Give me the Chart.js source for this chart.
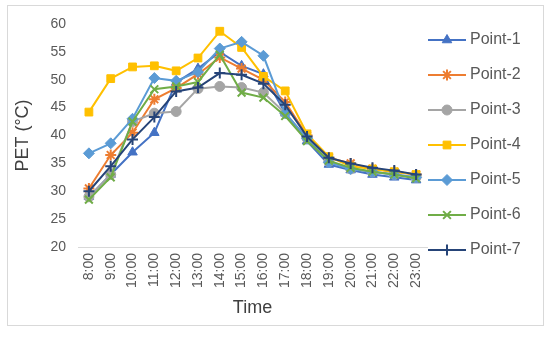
<!DOCTYPE html>
<html>
<head>
<meta charset="utf-8">
<script src="https://cdn.jsdelivr.net/npm/chart.js@4/dist/chart.umd.min.js"></script>
<style>
  html, body { margin: 0; padding: 0; background: #fff; }
  #wrap { width: 550px; height: 337px; }
</style>
</head>
<body>
<div id="wrap"><canvas id="myChart" width="550" height="337"></canvas></div>
<script>
const hours = ["8:00", "9:00", "10:00", "11:00", "12:00", "13:00", "14:00", "15:00",
  "16:00", "17:00", "18:00", "19:00", "20:00", "21:00", "22:00", "23:00"];
const yTicks = [20, 25, 30, 35, 40, 45, 50, 55, 60];

const point1 = [29.0, 33.0, 37.0, 40.5, 49.5, 52.0, 55.0, 52.5, 51.0, 44.0, 39.0, 34.8, 33.8, 33.0, 32.5, 32.0];
const point2 = [30.5, 36.5, 40.5, 46.5, 48.5, 51.0, 54.0, 52.0, 50.0, 46.0, 40.0, 36.0, 35.0, 34.0, 33.5, 33.0];
const point3 = [29.0, 33.0, 42.5, 44.0, 44.3, 48.4, 48.8, 48.6, 47.7, 44.0, 39.5, 35.3, 34.0, 33.5, 33.0, 32.5];
const point4 = [44.2, 50.2, 52.3, 52.5, 51.6, 53.9, 58.7, 55.8, 50.6, 48.0, 40.3, 36.2, 34.5, 34.0, 33.5, 33.0];
const point5 = [36.8, 38.6, 43.0, 50.3, 49.8, 51.4, 55.6, 56.8, 54.3, 44.0, 39.5, 35.2, 34.0, 33.5, 33.0, 32.5];
const point6 = [28.5, 32.5, 42.5, 48.3, 48.8, 49.6, 54.5, 47.7, 46.8, 43.5, 39.0, 35.5, 34.2, 33.5, 33.0, 32.3];
const point7 = [30.0, 34.5, 39.3, 43.3, 47.9, 48.6, 51.2, 50.9, 49.3, 45.5, 39.8, 36.0, 35.0, 34.2, 33.7, 33.0];

const names = ["Point-1", "Point-2", "Point-3", "Point-4", "Point-5", "Point-6", "Point-7"];
const colors = ["#4472C4", "#ED7D31", "#A5A5A5", "#FFC000", "#5B9BD5", "#70AD47", "#264478"];
const markers = ["triangle", "star", "circle", "rect", "rectRot", "crossRot", "cross"];
const series = [point1, point2, point3, point4, point5, point6, point7];

const FONT = "'Liberation Sans', Arial, sans-serif";
const GREY = "#595959";

const datasets = series.map(function(vals, i) {
  const solid = markers[i] !== "star" && markers[i] !== "crossRot" && markers[i] !== "cross";
  return {
    label: names[i],
    data: vals,
    borderColor: colors[i],
    backgroundColor: colors[i],
    borderWidth: 2,
    pointStyle: markers[i],
    pointRadius: markers[i] === "circle" ? 5 : 5.5,
    pointBorderWidth: solid ? 1 : 2,
    pointBackgroundColor: colors[i],
    pointBorderColor: colors[i],
    tension: 0,
    order: series.length - i
  };
});

// frame around the whole chart plus a hand drawn legend (line + marker)
const extras = {
  id: 'extras',
  afterDraw: function(chart) {
    const c = chart.ctx;
    c.save();
    c.strokeStyle = "#D9D9D9";
    c.lineWidth = 1;
    c.strokeRect(7.5, 5.5, 536, 320);

    const x0 = 428, x1 = 466;
    names.forEach(function(n, i) {
      const y = 40 + i * 35;
      c.strokeStyle = colors[i];
      c.lineWidth = 2;
      c.beginPath();
      c.moveTo(x0, y);
      c.lineTo(x1, y);
      c.stroke();
      c.fillStyle = colors[i];
      c.lineWidth = datasets[i].pointBorderWidth;
      Chart.helpers.drawPoint(c, {
        pointStyle: markers[i],
        radius: datasets[i].pointRadius,
        rotation: 0,
        borderWidth: datasets[i].pointBorderWidth
      }, (x0 + x1) / 2, y);
      c.fillStyle = GREY;
      c.font = "16px " + FONT;
      c.textBaseline = "middle";
      c.textAlign = "left";
      c.fillText(n, 470, y);
    });
    c.restore();
  }
};

const ctx = document.getElementById("myChart").getContext('2d');
const myChart = new Chart(ctx, {
  type: 'line',
  data: {
    labels: hours,
    datasets: datasets
  },
  options: {
    responsive: false,
    animation: false,
    layout: {
      padding: { top: 24, right: 123, bottom: 18, left: 12 }
    },
    plugins: {
      legend: { display: false },
      tooltip: { enabled: false }
    },
    scales: {
      x: {
        offset: true,
        grid: { display: false, drawTicks: false },
        border: { display: true, color: "#D9D9D9", width: 1 },
        ticks: {
          color: GREY,
          font: { family: FONT, size: 14 },
          minRotation: 90,
          maxRotation: 90,
          autoSkip: false,
          padding: 6
        },
        title: {
          display: true,
          text: "Time",
          color: "#404040",
          font: { family: FONT, size: 18 },
          padding: { top: 0, bottom: 0 }
        },
        afterFit: function(scale) { scale.height = 72; }
      },
      y: {
        min: 20,
        max: 60,
        grid: { display: false, drawTicks: false },
        border: { display: false },
        afterBuildTicks: function(scale) {
          scale.ticks = yTicks.map(function(v) { return { value: v }; });
        },
        ticks: {
          color: GREY,
          font: { family: FONT, size: 14 },
          padding: 12
        },
        title: {
          display: true,
          text: "PET (°C)",
          color: "#404040",
          font: { family: FONT, size: 18 },
          padding: { top: 0, bottom: 4 }
        },
        afterFit: function(scale) { scale.width = 66; }
      }
    }
  },
  plugins: [extras]
});
</script>
</body>
</html>
